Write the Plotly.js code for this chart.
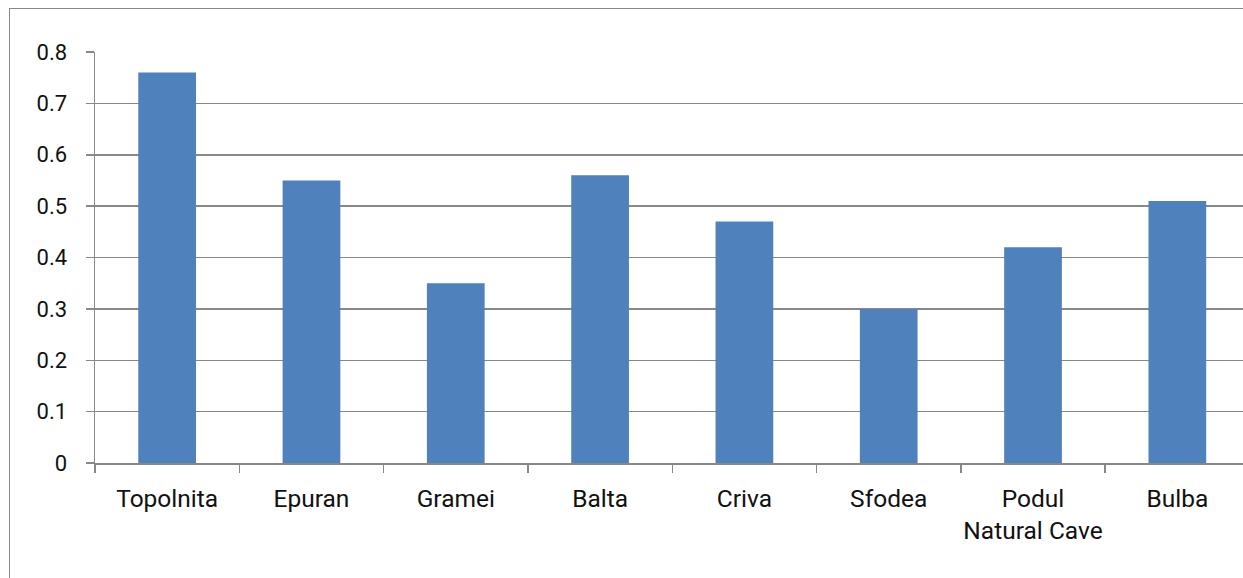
<!DOCTYPE html>
<html>
<head>
<meta charset="utf-8">
<script src="https://cdn.plot.ly/plotly-3.0.1.min.js"></script>
<style>
html,body{margin:0;padding:0;background:#fff;overflow:hidden;}
#wrap{position:relative;width:1243px;height:578px;}
#frame{position:absolute;left:9px;top:8px;width:1300px;height:700px;border-left:1.5px solid #888;border-top:1.5px solid #888;pointer-events:none;z-index:5;}
#chart{position:absolute;left:0;top:0;width:1243px;height:578px;}
</style>
</head>
<body>
<div id="wrap"><div id="chart"></div><div id="frame"></div></div>
<script>
const categories = ["Topolnita", "Epuran", "Gramei", "Balta", "Criva", "Sfodea", "Podul<br>Natural Cave", "Bulba"];
const values = [0.76, 0.55, 0.35, 0.56, 0.47, 0.30, 0.42, 0.51];
const yTicks = [0, 0.1, 0.2, 0.3, 0.4, 0.5, 0.6, 0.7, 0.8];
const yTickText = ["0", "0.1", "0.2", "0.3", "0.4", "0.5", "0.6", "0.7", "0.8"];

const trace = {
  type: "bar",
  x: categories,
  y: values,
  width: 0.4,
  marker: {color: "#4F81BD", line: {width: 0}},
  hoverinfo: "x+y"
};

const layout = {
  width: 1243,
  height: 578,
  margin: {l: 95, r: 0, t: 52, b: 115, pad: 0},
  paper_bgcolor: "#fff",
  plot_bgcolor: "#fff",
  showlegend: false,
  font: {family: "Roboto, 'Open Sans', sans-serif", size: 24, color: "#111"},
  xaxis: {
    type: "category",
    range: [-0.5, 7.455],
    showline: true, linecolor: "#888", linewidth: 1.5,
    ticks: "outside", ticklen: 8, tickcolor: "#888", tickwidth: 1.5,
    tickson: "boundaries",
    tickangle: 0,
    showgrid: false, zeroline: false,
    ticklabelstandoff: 13,
    tickfont: {size: 24.5},
    fixedrange: true
  },
  yaxis: {
    range: [0, 0.8],
    tickvals: yTicks, ticktext: yTickText,
    showline: true, linecolor: "#888", linewidth: 1.5,
    ticks: "outside", ticklen: 8, tickcolor: "#888", tickwidth: 1.5,
    showgrid: true, gridcolor: "#888", gridwidth: 1.5,
    zeroline: false,
    ticklabelstandoff: 14,
    tickfont: {size: 22},
    fixedrange: true
  }
};

Plotly.newPlot("chart", [trace], layout, {displayModeBar: false, staticPlot: true});
</script>
</body>
</html>
